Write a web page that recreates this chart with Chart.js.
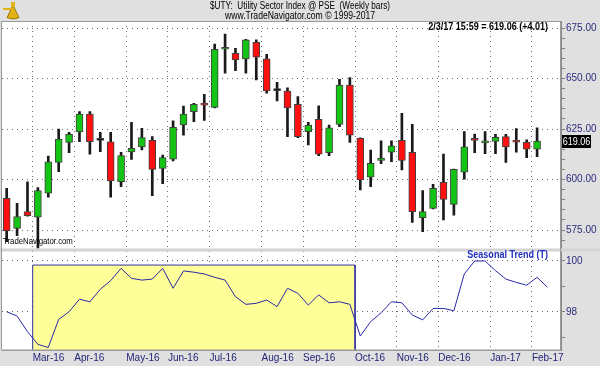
<!DOCTYPE html>
<html>
<head>
<meta charset="utf-8">
<script src="https://cdn.jsdelivr.net/npm/chart.js@4/dist/chart.umd.min.js"></script>
<style>
    html, body { margin: 0; padding: 0; background: #e0e0e0; }
    canvas { display: block; }
</style>
</head>
<body>
<canvas id="uty" width="600" height="366"></canvas>
<script>
const FONT = "'Liberation Sans', Arial, sans-serif";
const CONDENSE = 0.82; // the original uses a narrow face
const GRID = '#6a6a6a';

// Weekly bars, week ending 2/12/16 .. 2/3/17
const opens  = [590.7, 575.8, 584.1, 581.3, 593.2, 608.5, 618.4, 623.5, 632.4, 619.4,
                618.7, 598.9, 613.6, 616.1, 619.4, 605.5, 610.1, 627.0, 633.6, 637.3,
                635.7, 664.5, 662.5, 659.7, 667.9, 659.7, 644.0, 643.8, 637.2, 623.7,
                629.8, 613.3, 627.3, 646.8, 620.4, 601.1, 609.5, 613.5, 619.4, 613.5,
                581.1, 585.7, 598.6, 587.7, 603.6, 620.0, 618.1, 618.9, 621.2, 619.0,
                618.4, 615.05];
const highs  = [595.6, 588.2, 598.9, 596.0, 611.6, 625.0, 623.4, 633.6, 633.6, 623.4,
                623.4, 613.5, 628.3, 625.3, 621.2, 612.1, 629.0, 636.4, 637.7, 642.2,
                667.1, 672.0, 665.0, 669.4, 669.1, 662.0, 648.1, 645.4, 641.0, 628.3,
                636.5, 627.0, 649.6, 650.4, 620.6, 614.6, 619.1, 619.1, 632.8, 627.3,
                594.5, 597.6, 612.6, 605.2, 623.7, 622.5, 623.7, 622.4, 622.4, 625.2,
                619.6, 625.6];
const lows   = [569.2, 572.2, 581.8, 566.0, 591.2, 603.9, 613.3, 618.7, 612.5, 613.8,
                591.2, 596.4, 610.0, 614.6, 592.0, 597.9, 609.2, 622.0, 628.6, 629.3,
                635.5, 652.6, 653.9, 652.6, 649.3, 642.7, 638.9, 621.2, 620.7, 617.1,
                611.8, 611.8, 626.1, 618.4, 594.8, 596.4, 607.8, 608.8, 604.7, 578.8,
                574.2, 585.5, 580.0, 582.4, 600.2, 613.3, 612.8, 612.8, 608.5, 613.5,
                610.8, 611.3];
const closes = [574.5, 581.6, 582.1, 594.5, 608.8, 620.0, 622.4, 632.4, 618.7, 619.4,
                599.3, 611.8, 615.4, 620.7, 605.0, 610.8, 625.8, 632.4, 637.2, 636.8,
                664.5, 665.4, 659.2, 669.1, 660.6, 643.8, 644.0, 635.5, 621.2, 627.0,
                612.5, 625.6, 646.8, 622.0, 599.8, 608.0, 610.6, 616.7, 609.5, 584.1,
                584.1, 595.6, 590.2, 605.0, 616.2, 619.4, 618.9, 620.9, 616.1, 618.5,
                615.05, 619.06];

// Seasonal trend (runs one week past the last bar)
const seasonal = [98.01, 97.84, 97.23, 96.73, 96.61, 97.71, 98.01, 98.50, 98.40, 98.89,
                  99.23, 99.71, 99.32, 99.25, 99.29, 99.71, 98.93, 99.61, 99.56, 99.49,
                  99.36, 99.25, 98.60, 98.30, 98.34, 98.47, 98.21, 98.93, 98.73, 98.27,
                  98.67, 98.36, 98.40, 98.30, 97.06, 97.62, 97.97, 98.40, 98.36, 97.88,
                  97.69, 98.14, 98.14, 98.05, 99.49, 100.00, 100.00, 99.62, 99.29, 99.16,
                  99.05, 99.36, 98.97];

// x axis: month names and the first weekly bar of each month
const monthLabels = ['Mar-16', 'Apr-16', 'May-16', 'Jun-16', 'Jul-16', 'Aug-16',
                     'Sep-16', 'Oct-16', 'Nov-16', 'Dec-16', 'Jan-17', 'Feb-17'];
const monthFirstBar = [3, 7, 12, 16, 20, 25, 29, 34, 38, 42, 47, 51];

// highlighted seasonal window (bars) and its top level
const windowBars = [3, 33];
const windowTop = 99.84;

const titleLines = ['$UTY:  Utility Sector Index @ PSE  (Weekly bars)', 'www.TradeNavigator.com \u00a9 1999-2017'];
const lastBarTime = '2/3/17 15:59';

// axis ranges
const PRICE_MIN = 565.35, PRICE_MAX = 678.47;
const SEAS_MIN = 96.51, SEAS_MAX = 100.45;

const bodyColor = (i) => {
    if (closes[i] > opens[i]) return '#14c414';
    if (closes[i] < opens[i]) return '#ff1010';
    return '#000';
};

const wickData = opens.map((o, i) => ({ x: i, y: [lows[i], highs[i]] }));
const bodyData = opens.map((o, i) => ({ x: i, y: [o, closes[i]] }));
const seasonalData = seasonal.map((v, i) => ({ x: i, y: v }));
const windowData = [
    { x: windowBars[0] - 0.5, y: SEAS_MIN },
    { x: windowBars[0] - 0.5, y: windowTop },
    { x: windowBars[1] + 0.5, y: windowTop },
    { x: windowBars[1] + 0.5, y: SEAS_MIN }
];

const fixWidth = (w) => (scale) => { scale.width = w; };

// narrow text: draw with a horizontal squeeze
const narrowText = (ctx, text, x, y, font, color, align) => {
    ctx.save();
    ctx.font = font;
    ctx.fillStyle = color;
    ctx.textAlign = align;
    ctx.textBaseline = 'middle';
    ctx.translate(x, y);
    ctx.scale(CONDENSE, 1);
    ctx.fillText(text, 0, 0);
    ctx.restore();
};

// backgrounds, header, pane separator, captions and last-price tag
const paneDecor = {
    id: 'paneDecor',
    beforeDraw(chart) {
        const { ctx, chartArea: a } = chart;
        ctx.save();
        ctx.fillStyle = '#e0e0e0';
        ctx.fillRect(0, 0, chart.width, chart.height);
        ctx.fillStyle = '#fff';
        ctx.fillRect(a.left, a.top, a.width, a.height);

        // little gold sextant logo
        ctx.fillStyle = '#e2b316';
        ctx.strokeStyle = '#9a7a08';
        ctx.lineWidth = 1;
        ctx.beginPath();
        ctx.moveTo(13, 5);
        ctx.arc(13, 5, 14, Math.PI * 0.36, Math.PI * 0.64);
        ctx.closePath();
        ctx.fill();
        ctx.stroke();
        ctx.fillRect(3, 8, 10, 2);
        ctx.fillRect(11, 2, 4, 5);
        ctx.restore();

        narrowText(ctx, titleLines[0], chart.width / 2, 6, `10px ${FONT}`, '#000', 'center');
        narrowText(ctx, titleLines[1], chart.width / 2, 16.5, `10.5px ${FONT}`, '#000', 'center');
    },
    afterDatasetsDraw(chart) {
        const { ctx, chartArea: a, scales } = chart;
        const py = scales.y, sy = scales.y2;
        const split = py.bottom;
        ctx.save();

        // separator band between the two panes
        ctx.fillStyle = '#d4d4d4';
        ctx.fillRect(0, split - 1, chart.width, 3);

        // frame
        ctx.strokeStyle = '#9a9a9a';
        ctx.lineWidth = 1;
        ctx.strokeRect(a.left - 0.5, a.top + 0.5, a.width, a.height - 0.5);

        // last price tag on the axis
        const last = closes.length - 1;
        const ty = py.getPixelForValue(closes[last]);
        ctx.fillStyle = '#000';
        ctx.fillRect(a.right + 1, ty - 6, 29, 13);
        ctx.restore();

        narrowText(ctx, closes[last].toFixed(2), a.right + 15.5, ty + 0.5, `11px ${FONT}`, '#fff', 'center');

        const chg = closes[last] - closes[last - 1];
        narrowText(ctx, `${lastBarTime} = ${closes[last].toFixed(2)} (${chg >= 0 ? '+' : ''}${chg.toFixed(2)})`,
            a.right - 13, py.top + 6, `bold 11px ${FONT}`, '#000', 'right');
        narrowText(ctx, 'TradeNavigator.com', a.left + 1, split - 8, `9.5px ${FONT}`, '#000', 'left');
        narrowText(ctx, 'Seasonal Trend (T)', a.right - 13, sy.top + 5.5, `bold 11px ${FONT}`, '#2030c0', 'right');
    }
};

new Chart(document.getElementById('uty'), {
    type: 'bar',
    data: {
        datasets: [
            {
                label: 'Seasonal Trend',
                type: 'line',
                data: seasonalData,
                yAxisID: 'y2',
                borderColor: '#2a2aa8',
                borderWidth: 1,
                pointRadius: 0,
                tension: 0,
                order: 1
            },
            {
                label: 'Window',
                type: 'line',
                data: windowData,
                yAxisID: 'y2',
                borderColor: '#3434a0',
                borderWidth: 1,
                backgroundColor: '#ffff99',
                fill: 'start',
                pointRadius: 0,
                tension: 0,
                order: 2
            },
            {
                label: 'Body',
                data: bodyData,
                yAxisID: 'y',
                backgroundColor: opens.map((o, i) => bodyColor(i)),
                borderColor: '#404040',
                borderWidth: 1,
                borderSkipped: false,
                barThickness: 7,
                minBarLength: 2,
                grouped: false,
                order: 3
            },
            {
                label: 'Range',
                data: wickData,
                yAxisID: 'y',
                backgroundColor: '#1a1a1a',
                borderWidth: 0,
                barThickness: 2,
                grouped: false,
                order: 4
            }
        ]
    },
    options: {
        responsive: false,
        animation: false,
        events: [],
        layout: { padding: { left: 2, top: 21, right: 0, bottom: 0 } },
        plugins: {
            legend: { display: false },
            tooltip: { enabled: false },
            title: { display: false }
        },
        scales: {
            x: {
                type: 'linear',
                min: -0.45,
                max: 53.3,
                offset: false,
                afterFit: (scale) => { scale.height = 16; },
                afterBuildTicks: (scale) => {
                    scale.ticks = monthFirstBar.map(b => ({ value: b - 0.5 }));
                },
                grid: { offset: false, color: GRID, drawTicks: false },
                border: { display: true, color: '#9a9a9a', dash: [1, 4] },
                ticks: {
                    autoSkip: false,
                    maxRotation: 0,
                    align: 'start',
                    padding: 2,
                    color: '#24247a',
                    font: { family: FONT, size: 10 },
                    callback: (v, i) => monthLabels[i]
                }
            },
            y: {
                position: 'right',
                stack: 'panes',
                stackWeight: 228.5,
                weight: 0,
                min: PRICE_MIN,
                max: PRICE_MAX,
                afterFit: fixWidth(39),
                grid: {
                    color: (c) => (c.tick && Math.round(c.tick.value) % 25 === 0) ? GRID : 'rgba(0,0,0,0)',
                    tickColor: '#808080',
                    tickLength: 4
                },
                border: { display: true, color: '#8a8a8a', dash: [1, 4] },
                ticks: {
                    stepSize: 5,
                    autoSkip: false,
                    includeBounds: false,
                    padding: 1,
                    color: '#2c2c80',
                    font: { family: FONT, size: 10 },
                    callback: (v) => Math.round(v) % 25 === 0 ? v.toFixed(2) : ''
                }
            },
            y2: {
                position: 'right',
                stack: 'panes',
                stackWeight: 100.5,
                weight: 1,
                min: SEAS_MIN,
                max: SEAS_MAX,
                afterFit: fixWidth(39),
                grid: {
                    color: (c) => (c.tick && Math.round(c.tick.value) % 2 === 0) ? GRID : 'rgba(0,0,0,0)',
                    tickColor: '#808080',
                    tickLength: 4
                },
                border: { display: true, color: '#8a8a8a', dash: [1, 4] },
                ticks: {
                    stepSize: 1,
                    autoSkip: false,
                    includeBounds: false,
                    padding: 1,
                    color: '#2c2c80',
                    font: { family: FONT, size: 10 },
                    callback: (v) => Math.round(v) % 2 === 0 ? String(Math.round(v)) : ''
                }
            }
        }
    },
    plugins: [paneDecor]
});
</script>
</body>
</html>
